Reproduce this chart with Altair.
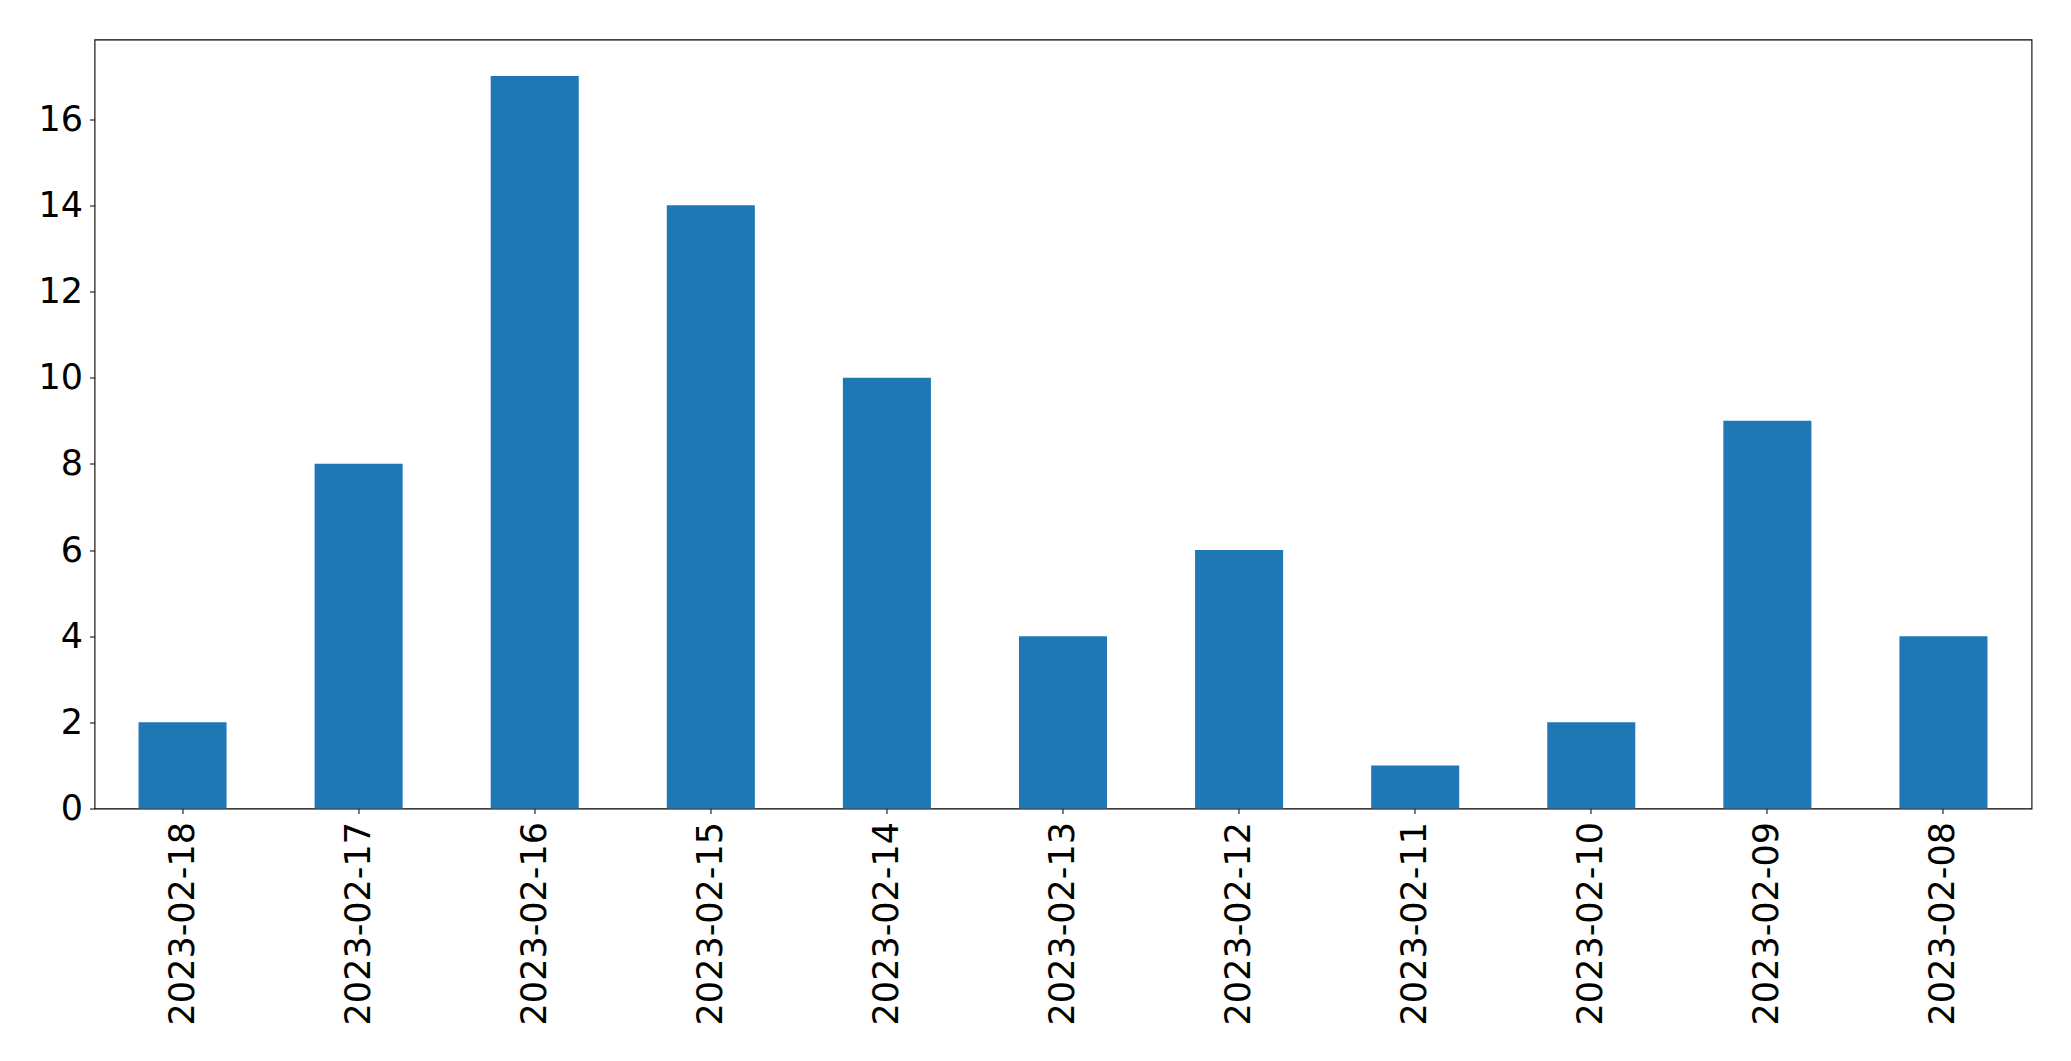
import altair as alt
import pandas as pd

dates = ["2023-02-18", "2023-02-17", "2023-02-16", "2023-02-15", "2023-02-14",
         "2023-02-13", "2023-02-12", "2023-02-11", "2023-02-10", "2023-02-09",
         "2023-02-08"]
counts = [2, 8, 17, 14, 10, 4, 6, 1, 2, 9, 4]
y_ticks = [0, 2, 4, 6, 8, 10, 12, 14, 16]

df = pd.DataFrame({"date": dates, "count": counts})

FONT = "DejaVu Sans"

chart = alt.Chart(df).mark_bar(color="#1f77b4").encode(
    x=alt.X("date:N", sort=None, title=None,
            scale=alt.Scale(paddingInner=0.5, paddingOuter=0.25),
            axis=alt.Axis(labelAngle=-90, labelAlign="right", labelBaseline="middle",
                          labelFont=FONT, labelFontSize=35, labelColor="black",
                          labelLimit=1000, labelOverlap=False,
                          labelPadding=8, tickSize=5, tickColor="black", tickWidth=1,
                          domain=False, grid=False)),
    y=alt.Y("count:Q", title=None,
            scale=alt.Scale(domain=[0, 17.85], nice=False, zero=True),
            axis=alt.Axis(values=y_ticks, labelFont=FONT, labelFontSize=35,
                          labelColor="black", labelPadding=7, tickSize=5,
                          tickColor="black", tickWidth=1, domain=False, grid=False)),
).properties(
    width=1937, height=769,
    autosize=alt.AutoSizeParams(type="none"),
    padding={"left": 86.5, "top": 31.5, "right": 30, "bottom": 240},
).configure_view(stroke="black", strokeWidth=1.1)

chart.save("out.html", embed_options={"renderer": "svg", "actions": False})
